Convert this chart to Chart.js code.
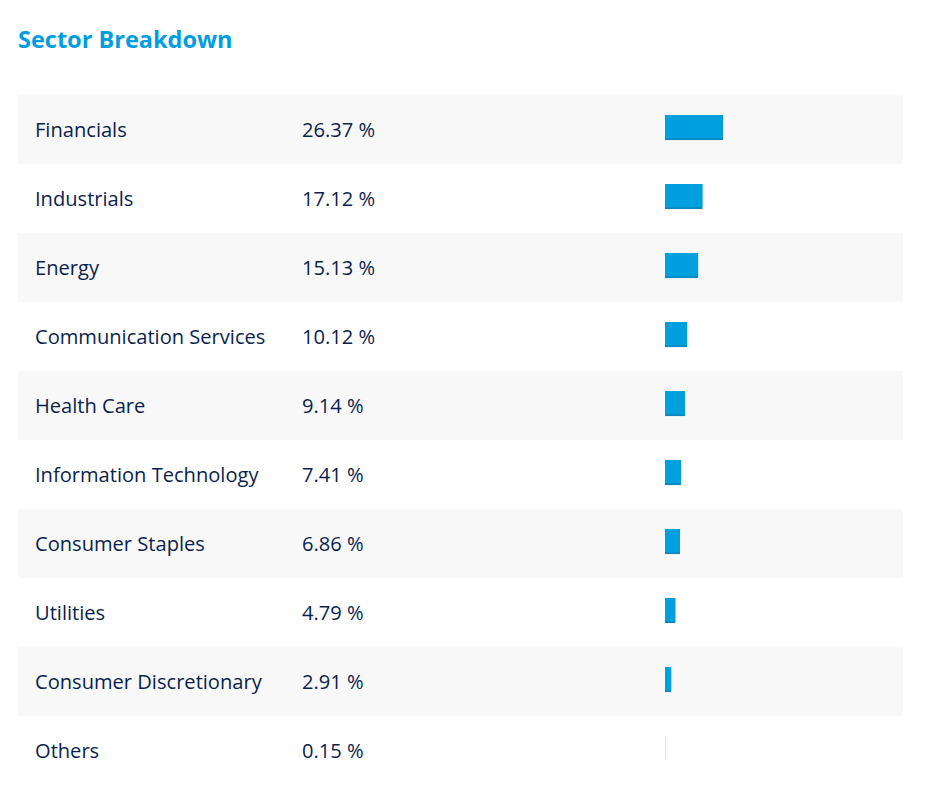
<!DOCTYPE html>
<html>
<head>
<meta charset="utf-8">
<script src="https://cdn.jsdelivr.net/npm/chart.js@4/dist/chart.umd.min.js"></script>
<style>
  html, body { margin: 0; padding: 0; background: #fff; }
  body { width: 930px; height: 812px; position: relative; font-family: "Open Sans", "Noto Sans", sans-serif; }
  h2 { position: absolute; left: 18px; top: 23px; margin: 0; font-size: 23.5px; font-weight: 700; color: #009ddf; line-height: 32px; }
  #table { position: absolute; left: 18px; top: 95px; width: 885px; }
  .row { height: 69px; position: relative; color: #0b1f4f; font-size: 20.1px; }
  .row.alt { background: #f8f8f8; }
  .row span { position: absolute; top: 0; line-height: 69px; white-space: nowrap; }
  .row .lab { left: 17px; }
  .row .val { left: 284px; }
  #chartWrap { position: absolute; left: 665px; top: 93px; width: 220px; height: 690px; }
</style>
</head>
<body>
<h2>Sector Breakdown</h2>
<div id="table"></div>
<div id="chartWrap"><canvas id="c"></canvas></div>
<script>
const sectors = ["Financials", "Industrials", "Energy", "Communication Services", "Health Care", "Information Technology", "Consumer Staples", "Utilities", "Consumer Discretionary", "Others"];
const weights = [26.37, 17.12, 15.13, 10.12, 9.14, 7.41, 6.86, 4.79, 2.91, 0.15];
const valueLabels = ["26.37 %", "17.12 %", "15.13 %", "10.12 %", "9.14 %", "7.41 %", "6.86 %", "4.79 %", "2.91 %", "0.15 %"];

const table = document.getElementById('table');
sectors.forEach((s, i) => {
  const r = document.createElement('div');
  r.className = 'row' + (i % 2 === 0 ? ' alt' : '');
  const a = document.createElement('span'); a.className = 'lab'; a.textContent = s;
  const b = document.createElement('span'); b.className = 'val'; b.textContent = valueLabels[i];
  r.appendChild(a); r.appendChild(b);
  table.appendChild(r);
});

new Chart(document.getElementById('c'), {
  type: 'bar',
  data: {
    labels: sectors,
    datasets: [{
      data: weights,
      backgroundColor: '#00a0df',
      borderColor: '#0a88c2',
      borderWidth: { top: 0, left: 0, right: 0, bottom: 2 },
      borderSkipped: false,
      barThickness: 25
    }]
  },
  options: {
    indexAxis: 'y',
    responsive: true,
    maintainAspectRatio: false,
    animation: false,
    layout: { padding: 0 },
    plugins: { legend: { display: false }, tooltip: { enabled: false } },
    scales: {
      x: { display: false, min: 0, max: 100 },
      y: { display: false, offset: true, grid: { display: false } }
    }
  }
});
</script>
</body>
</html>
